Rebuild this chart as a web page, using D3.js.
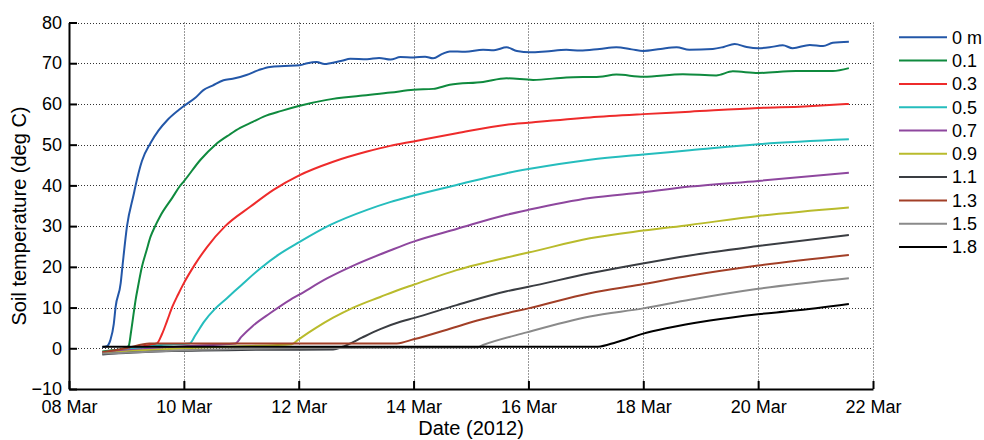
<!DOCTYPE html>
<html>
<head>
<meta charset="utf-8">
<script src="https://cdn.jsdelivr.net/npm/d3@7"></script>
<style>
  body { margin: 0; background: #fff; }
  svg { display: block; font-family: "Liberation Sans", Arial, sans-serif; }
</style>
</head>
<body>
<svg id="chart" width="984" height="440"></svg>
<script>
// depth labels + colours, in plot order
const depths = ['0 m', '0.1', '0.3', '0.5', '0.7', '0.9', '1.1', '1.3', '1.5', '1.8'];
const colors = ['#2357a8', '#0f8a3e', '#ee2b2b', '#25bdbd', '#8e479e', '#b9bb2c', '#3a3d42', '#a23f27', '#8a8a8a', '#000000'];

// [day of March 2012, temperature degC]
const s00 = [[8.58,0.3],[8.66,0.5],[8.72,2],[8.78,6],[8.81,10],[8.9,16],[8.93,20],[9.01,30],[9.13,38],[9.16,40],[9.27,46],[9.42,50.4],[9.56,53.5],[9.71,56],[9.91,58.5],[10.0,59.5],[10.2,61.5],[10.34,63.4],[10.5,64.5],[10.69,65.8],[10.85,66.2],[11.09,67.1],[11.3,68.3],[11.5,69.1],[11.75,69.3],[12.02,69.5],[12.15,70.0],[12.31,70.3],[12.45,69.8],[12.55,70.0],[12.75,70.6],[12.9,71.1],[13.19,71.0],[13.4,71.3],[13.6,70.9],[13.77,71.5],[14.0,71.4],[14.2,71.6],[14.34,71.2],[14.5,72.3],[14.63,72.9],[14.9,72.8],[15.21,73.3],[15.4,73.2],[15.62,73.9],[15.8,73.0],[16.03,72.7],[16.3,72.9],[16.66,73.3],[16.9,73.1],[17.24,73.5],[17.53,73.9],[17.8,73.4],[18.0,73.0],[18.3,73.5],[18.58,73.9],[18.8,73.3],[19.21,73.5],[19.4,74.0],[19.59,74.7],[19.8,74.0],[20.0,73.7],[20.2,73.9],[20.43,74.4],[20.6,73.7],[20.9,74.5],[21.13,74.2],[21.3,75.0],[21.58,75.3]];
const s01 = [[8.58,-0.8],[8.75,-0.5],[8.9,-0.3],[9.0,0.2],[9.04,0.6],[9.08,4],[9.13,9],[9.16,11.9],[9.2,15],[9.27,20],[9.35,24],[9.42,27.4],[9.5,30],[9.59,32.5],[9.8,37],[9.94,40],[10.0,41],[10.29,46.3],[10.55,50],[10.8,52.5],[10.98,54.1],[11.2,55.6],[11.39,56.9],[11.7,58.3],[12.0,59.5],[12.49,61],[13.07,62],[13.6,62.8],[14.0,63.5],[14.34,63.7],[14.63,64.7],[15.21,65.4],[15.62,66.3],[16.08,65.9],[16.66,66.5],[17.24,66.7],[17.53,67.2],[18.0,66.7],[18.69,67.3],[19.27,67.0],[19.56,68.0],[20.0,67.6],[20.66,68.1],[21.3,68.1],[21.58,68.8]];
const s03 = [[8.58,-1.2],[8.8,-0.8],[9.0,-0.4],[9.2,0.2],[9.4,0.8],[9.53,1.2],[9.62,3.5],[9.71,6.8],[9.8,10.2],[9.9,13.2],[10.0,16],[10.18,20.3],[10.4,24.8],[10.72,30],[11.16,34.8],[11.56,38.9],[12.0,42.4],[12.6,45.8],[13.19,48.3],[13.59,49.7],[14.0,50.8],[14.75,52.8],[15.62,54.9],[16.0,55.4],[17.07,56.7],[18.0,57.5],[18.81,58.1],[20.0,59.0],[20.8,59.4],[21.58,60.0]];
const s05 = [[8.58,-1.0],[9.2,0],[9.6,0.8],[10.1,1.2],[10.2,3.2],[10.35,6.5],[10.55,9.8],[10.75,12.3],[11.0,15.5],[11.33,19.6],[11.65,23.0],[12.0,26.0],[12.55,30.3],[13.19,34],[13.59,35.9],[14.0,37.5],[14.75,40.1],[15.62,43],[16.0,44],[17.07,46.3],[18.0,47.6],[18.81,48.6],[20.0,50.1],[21.58,51.3]];
const s07 = [[8.58,-1.0],[9.2,-0.3],[10.0,0.5],[10.9,1.2],[11.0,2.8],[11.2,5.5],[11.5,8.6],[11.85,11.9],[12.0,13.1],[12.5,17.2],[13.0,20.6],[13.59,24.0],[14.0,26.2],[14.75,29.3],[15.62,32.8],[16.0,34],[17.07,36.9],[18.0,38.3],[18.81,39.7],[20.0,41.1],[21.58,43.1]];
const s09 = [[8.58,-1.3],[9.3,-0.5],[10.0,0],[11.0,0.5],[11.88,1.0],[12.0,2.2],[12.3,5.0],[12.6,7.5],[12.95,10],[13.42,12.6],[13.77,14.5],[14.0,15.6],[14.75,19.2],[15.62,22.3],[16.0,23.5],[17.07,27],[18.0,28.9],[18.81,30.3],[20.0,32.5],[21.58,34.6]];
const s11 = [[8.58,-1.5],[9.5,-0.8],[11.0,-0.4],[12.6,-0.3],[12.75,0.3],[12.87,1.0],[13.1,2.6],[13.42,4.7],[13.77,6.5],[14.0,7.4],[14.75,10.6],[15.62,14.0],[16.0,15.1],[17.07,18.4],[17.94,20.7],[18.81,22.8],[20.0,25.1],[21.58,27.8]];
const s13 = [[8.58,-1.0],[9.0,0],[9.4,1.2],[13.71,1.2],[14.0,2.2],[14.75,5.3],[15.16,7.0],[15.62,8.6],[16.0,9.8],[17.07,13.5],[17.94,15.6],[18.81,17.8],[20.0,20.3],[21.58,22.9]];
const s15 = [[8.58,-1.3],[10.0,-0.5],[12.0,0],[15.1,0.2],[15.21,0.8],[15.97,3.9],[17.07,7.8],[18.0,9.8],[18.81,11.9],[20.0,14.6],[21.58,17.2]];
const s18 = [[8.58,0.4],[17.21,0.4],[17.53,1.5],[18.0,3.6],[18.4,4.9],[19.16,6.8],[20.0,8.35],[20.6,9.2],[21.58,10.9]];

const series = [s00, s01, s03, s05, s07, s09, s11, s13, s15, s18];

const xTickDays = [8, 10, 12, 14, 16, 18, 20, 22];
const yTicks = [-10, 0, 10, 20, 30, 40, 50, 60, 70, 80];

const xLabel = 'Date (2012)';
const yLabel = 'Soil temperature (deg C)';

// day-of-month -> Date
const marchStart = new Date(2012, 2, 1).getTime();
const toDate = day => new Date(marchStart + (day - 1) * 864e5);

const svg = d3.select('#chart');
const plot = {left: 69, right: 873, top: 22.5, bottom: 389};

const xScale = d3.scaleTime()
  .domain([toDate(8), toDate(22)])
  .range([plot.left, plot.right]);

const yScale = d3.scaleLinear()
  .domain([-10, 80])
  .range([plot.bottom, plot.top]);

// dotted grid
const grid = svg.append('g').attr('class', 'grid')
  .attr('stroke', '#333')
  .attr('stroke-width', 1)
  .attr('stroke-dasharray', '1,2');

grid.selectAll('.gy').data(yTicks.filter(d => d > -10)).enter()
  .append('line')
    .attr('x1', plot.left).attr('x2', plot.right)
    .attr('y1', d => Math.round(yScale(d)) + 0.5)
    .attr('y2', d => Math.round(yScale(d)) + 0.5);

grid.selectAll('.gx').data(xTickDays.filter(d => d > 8)).enter()
  .append('line')
    .attr('y1', plot.top).attr('y2', plot.bottom)
    .attr('x1', d => Math.round(xScale(toDate(d))) + 0.5)
    .attr('x2', d => Math.round(xScale(toDate(d))) + 0.5);

// lines
const lineGen = d3.line()
  .x(d => xScale(toDate(d[0])))
  .y(d => yScale(d[1]))
  .curve(d3.curveMonotoneX);

svg.append('g').selectAll('.line-path').data(series).enter()
  .append('path')
    .attr('class', 'line-path')
    .attr('fill', 'none')
    .attr('stroke', (d, i) => colors[i])
    .attr('stroke-width', 2)
    .attr('stroke-linejoin', 'round')
    .attr('d', lineGen);

// axes
const xAxis = d3.axisBottom(xScale)
  .tickValues(xTickDays.map(toDate))
  .tickFormat(d3.timeFormat('%d %b'))
  .tickSizeInner(-8)
  .tickSizeOuter(0)
  .tickPadding(11);

const yAxis = d3.axisLeft(yScale)
  .tickValues(yTicks)
  .tickSizeInner(-8)
  .tickSizeOuter(0)
  .tickPadding(7);

const xAxisG = svg.append('g')
  .attr('transform', `translate(0,${plot.bottom})`)
  .call(xAxis);

const yAxisG = svg.append('g')
  .attr('transform', `translate(${plot.left},0)`)
  .call(yAxis);

[xAxisG, yAxisG].forEach(g => {
  g.selectAll('.domain').attr('stroke', '#000').attr('stroke-width', 2);
  g.selectAll('.tick line').attr('stroke', '#000').attr('stroke-width', 2);
  g.selectAll('text')
    .attr('fill', '#000')
    .style('font-size', '18px')
    .style('font-family', '"Liberation Sans", Arial, sans-serif');
});

svg.append('text')
  .attr('x', (plot.left + plot.right) / 2)
  .attr('y', 435)
  .attr('text-anchor', 'middle')
  .style('font-size', '20px')
  .text(xLabel);

svg.append('text')
  .attr('transform', `translate(26, 216) rotate(-90)`)
  .attr('text-anchor', 'middle')
  .style('font-size', '20px')
  .text(yLabel);

// legend
const legend = svg.append('g').selectAll('.legend').data(depths).enter()
  .append('g')
    .attr('class', 'legend')
    .attr('transform', (d, i) => `translate(899, ${37.3 + i * 23.3})`);

legend.append('line')
  .attr('x1', 0).attr('x2', 48)
  .attr('stroke', (d, i) => colors[i])
  .attr('stroke-width', 2);

legend.append('text')
  .attr('x', 53)
  .attr('dy', '0.35em')
  .style('font-size', '18px')
  .text(d => d);
</script>
</body>
</html>
